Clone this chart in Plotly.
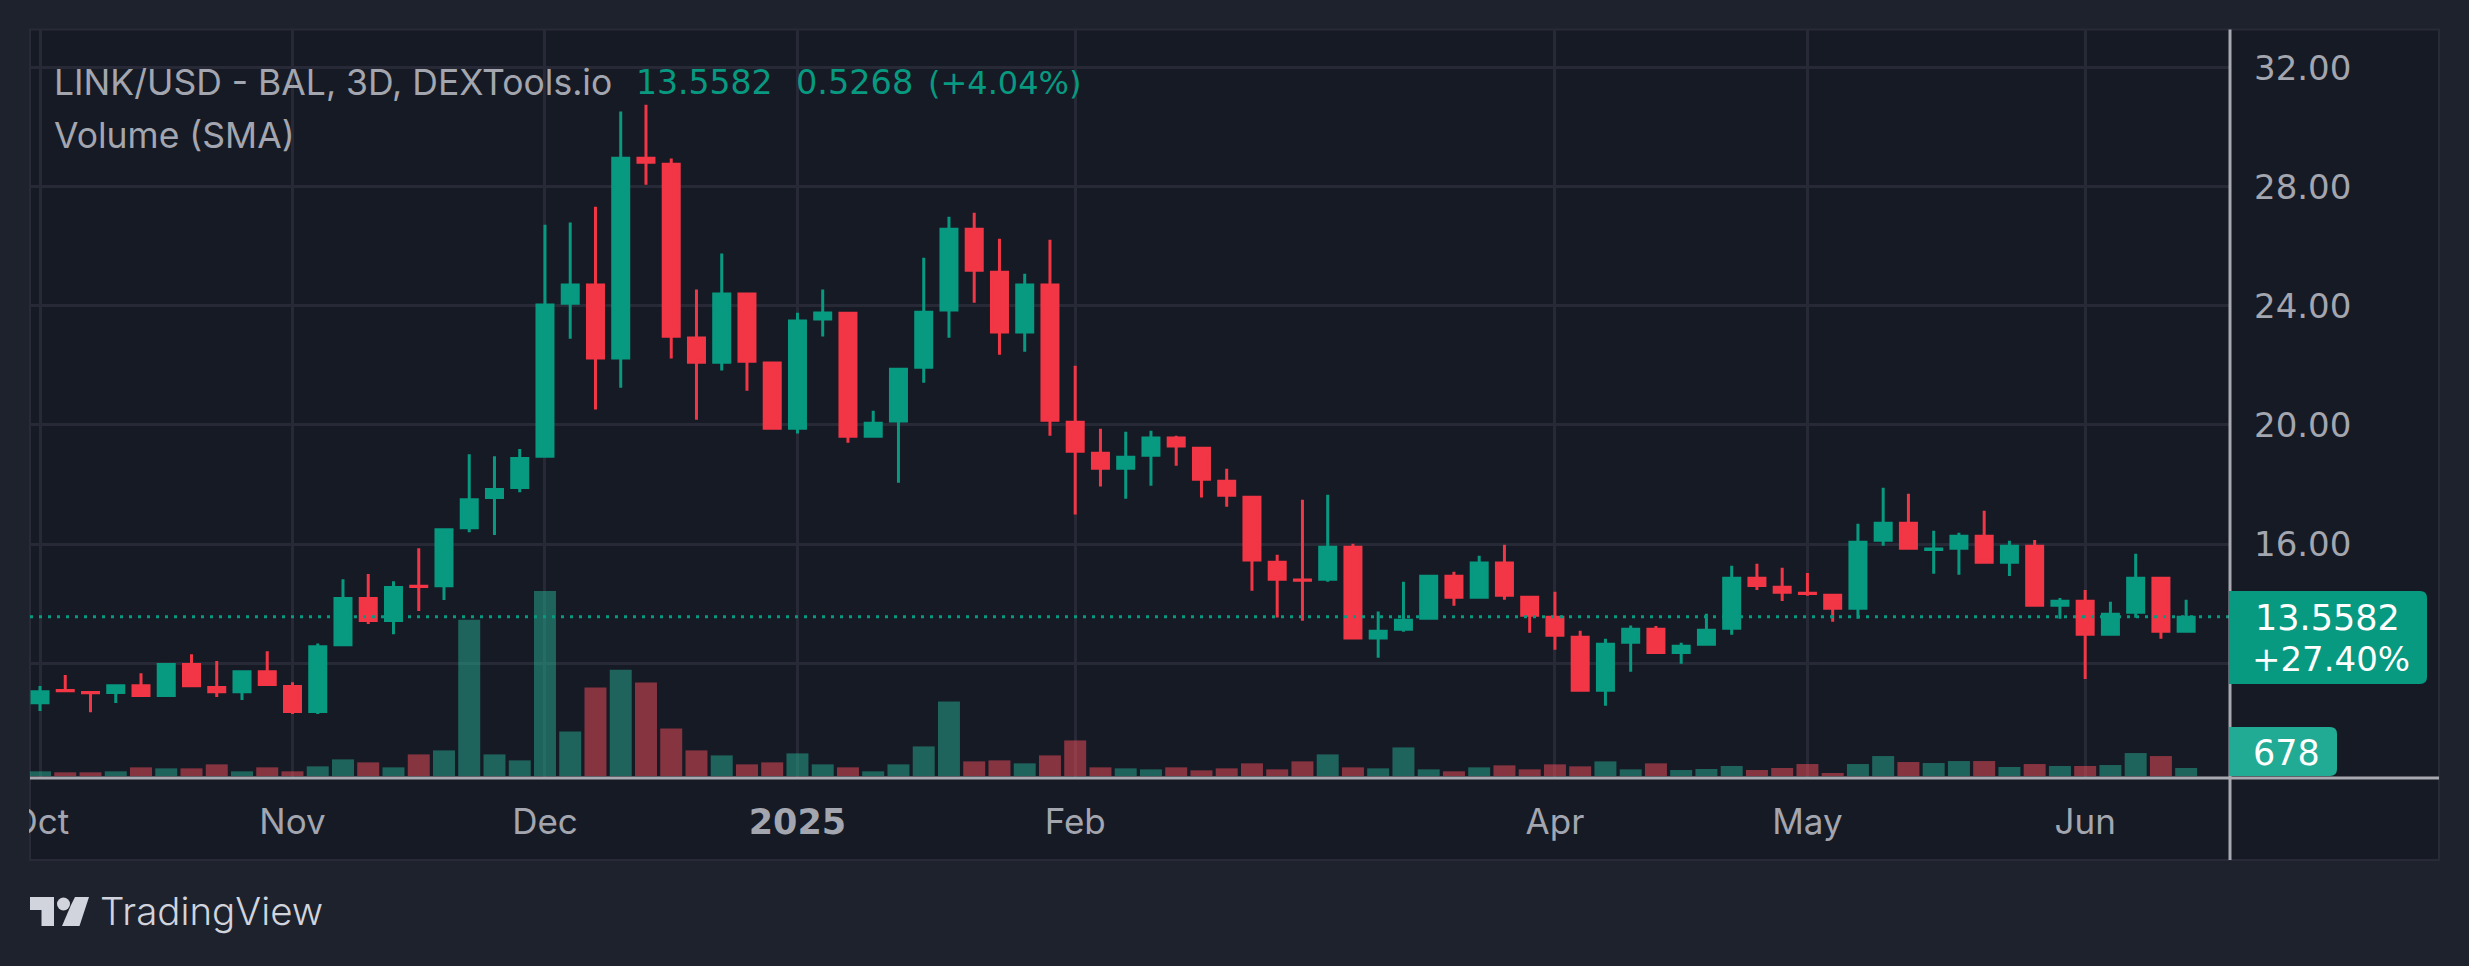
import pandas as pd
import plotly.graph_objects as go

# first bar of the 3D series
dates = pd.date_range("2024-10-03", periods=86, freq="3D")

opens = [10.67, 11.08, 11.01, 11.01, 11.24, 10.91, 11.95, 11.18, 11.04, 11.71,
         11.21, 10.37, 12.62, 14.17, 13.43, 14.58, 14.60, 16.55, 17.56, 17.90,
         18.95, 24.09, 24.70, 22.25, 28.96, 28.76, 22.92, 22.11, 24.40, 22.08,
         19.89, 23.56, 23.75, 19.62, 20.13, 21.94, 23.86, 26.58, 25.13, 23.12,
         24.70, 20.09, 19.05, 18.55, 18.98, 19.56, 19.22, 18.11, 17.57, 15.39,
         14.79, 14.82, 15.89, 12.84, 13.14, 13.51, 14.92, 14.21, 15.36, 14.21,
         13.54, 12.87, 11.09, 12.70, 13.14, 12.36, 12.63, 13.17, 14.85, 14.55,
         14.35, 14.28, 13.84, 16.13, 16.70, 15.82, 15.86, 16.26, 15.39, 15.93,
         13.94, 14.08, 12.97, 13.71, 14.85, 13.07]
highs = [11.23, 11.60, 11.01, 11.24, 11.66, 11.95, 12.30, 12.07, 11.71, 12.40,
         11.36, 12.66, 14.82, 14.99, 14.75, 15.86, 16.48, 19.02, 18.95, 19.19,
         26.73, 26.80, 27.33, 30.53, 30.76, 28.95, 24.55, 25.76, 24.40, 22.08,
         23.77, 24.55, 23.75, 20.48, 21.87, 25.62, 27.00, 27.13, 26.26, 25.08,
         26.22, 21.99, 19.87, 19.77, 19.81, 19.64, 19.22, 18.53, 17.57, 15.64,
         17.49, 17.66, 16.01, 13.73, 14.73, 14.92, 15.07, 15.61, 15.98, 14.21,
         14.40, 13.09, 12.82, 13.26, 13.25, 12.68, 13.66, 15.27, 15.34, 15.20,
         15.03, 14.28, 16.68, 17.89, 17.69, 16.45, 16.38, 17.12, 16.11, 16.14,
         14.19, 14.46, 14.06, 15.67, 14.85, 14.13]
lows = [10.39, 11.07, 10.35, 10.66, 10.91, 10.91, 11.24, 10.86, 10.76, 11.28,
        10.29, 10.29, 12.62, 13.31, 12.97, 13.75, 14.12, 16.40, 16.30, 17.74,
        18.95, 22.90, 20.52, 21.25, 28.07, 22.23, 20.18, 21.83, 21.15, 19.89,
        19.71, 22.97, 19.40, 19.62, 18.06, 21.42, 22.93, 24.11, 22.36, 22.46,
        19.64, 16.99, 17.93, 17.52, 17.96, 18.63, 17.56, 17.25, 14.43, 13.53,
        13.42, 14.73, 12.84, 12.18, 13.05, 13.51, 13.93, 14.21, 14.13, 13.02,
        12.45, 11.09, 10.57, 11.71, 12.36, 11.98, 12.63, 12.95, 14.46, 14.09,
        14.26, 13.39, 13.49, 15.94, 15.86, 15.00, 14.97, 15.39, 14.93, 13.94,
        13.49, 11.47, 12.97, 13.52, 12.82, 13.07]
closes = [11.04, 11.07, 11.00, 11.24, 10.91, 11.95, 11.24, 11.04, 11.71, 11.28,
          10.37, 12.55, 14.17, 13.43, 14.54, 14.57, 16.48, 17.49, 17.83, 18.87,
          24.03, 24.70, 22.25, 28.96, 28.83, 22.98, 22.11, 24.40, 22.14, 19.89,
          23.49, 23.76, 19.62, 20.06, 21.87, 23.79, 26.58, 25.20, 23.12, 24.70,
          20.16, 19.12, 18.55, 18.92, 19.56, 19.29, 18.18, 17.64, 15.46, 14.82,
          14.78, 15.89, 12.84, 13.07, 13.44, 14.92, 14.21, 15.36, 14.28, 13.61,
          12.94, 11.09, 12.63, 13.14, 12.36, 12.57, 13.10, 14.85, 14.61, 14.38,
          14.34, 13.84, 16.06, 16.70, 15.86, 15.83, 16.26, 15.39, 15.93, 13.94,
          14.08, 12.97, 13.64, 14.85, 13.07, 13.54]
volumes = [396, 311, 311, 396, 735, 650, 650, 989, 396, 735,
           396, 819, 1413, 1158, 735, 1836, 2175, 13278, 1836, 1328,
           15735, 3786, 7515, 9040, 7938, 4040, 2175, 1752, 989, 1158,
           1921, 989, 735, 396, 989, 2514, 6328, 1243, 1328, 1074,
           1752, 3023, 735, 650, 565, 735, 480, 650, 1074, 565,
           1243, 1836, 735, 650, 2430, 565, 396, 735, 904, 565,
           989, 819, 1243, 565, 1074, 509, 593, 848, 509, 678,
           1017, 254, 1017, 1695, 1187, 1102, 1271, 1271, 763, 1017,
           848, 848, 932, 1949, 1695, 678]

# the 12.00 label sits behind the price badge in the original
price_ticks = [12, 16, 20, 24, 28, 32]
price_labels = ["", "16.00", "20.00", "24.00", "28.00", "32.00"]
time_ticks = ["2024-10-03", "2024-11-02", "2024-12-02", "2025-01-01",
              "2025-02-03", "2025-04-01", "2025-05-01", "2025-06-03"]
time_labels = ["Oct", "Nov", "Dec", "<b style='font-family:DejaVu Sans;font-size:35px'>2025</b>",
               "Feb", "Apr", "May", "Jun"]

last_price = 13.5582
last_volume = 678

FONT = "Inter"
NUM_FONT = "DejaVu Sans"
UP = "#089981"
DOWN = "#F23645"
PANEL = "#161A25"
PAGE = "#1E222D"
GRID = "#272A36"
AXIS = "#A9AAB1"
TEXT = "#A3A6AF"

# plot area in page pixels
LEFT, RIGHT, TOP, BOTTOM = 30, 2230, 30, 778


def px(x):
    return (x - LEFT) / (RIGHT - LEFT)


def py(y):
    return (BOTTOM - y) / (BOTTOM - TOP)


def poly(points):
    return "M " + " L ".join("%.5f,%.5f" % (px(x), py(y)) for x, y in points) + " Z"


def badge(x0, y0, x1, y1, r=7):
    # square on the axis side, rounded on the right
    return ("M %.5f,%.5f L %.5f,%.5f Q %.5f,%.5f %.5f,%.5f L %.5f,%.5f Q %.5f,%.5f %.5f,%.5f L %.5f,%.5f Z"
            % (px(x0), py(y0), px(x1 - r), py(y0), px(x1), py(y0), px(x1), py(y0 + r),
               px(x1), py(y1 - r), px(x1), py(y1), px(x1 - r), py(y1), px(x0), py(y1)))


def paper_shape(**kw):
    return dict(xref="paper", yref="paper", **kw)


def label(x, y, text, color=TEXT, size=35.5, anchor="left", family=FONT, weight=400):
    return dict(xref="paper", yref="paper", x=px(x), y=py(y), text=text, showarrow=False,
                xanchor=anchor, yanchor="middle", borderpad=0,
                font=dict(family=family, size=size, color=color, weight=weight))


fig = go.Figure()
fig.add_trace(go.Bar(x=dates, y=volumes, yaxis="y2", showlegend=False, marker_line_width=0,
                     marker_color=["rgba(38,163,141,0.55)" if c >= o else "rgba(229,74,90,0.55)"
                                   for o, c in zip(opens, closes)]))
fig.add_trace(go.Candlestick(x=dates, open=opens, high=highs, low=lows, close=closes, showlegend=False,
                             increasing=dict(line=dict(color=UP, width=3), fillcolor=UP),
                             decreasing=dict(line=dict(color=DOWN, width=3), fillcolor=DOWN)))

shapes = [
    # outer panel, axis strips included
    paper_shape(type="rect", x0=px(30), x1=px(2439), y0=py(29.5), y1=py(860), layer="below",
                fillcolor=PANEL, line=dict(color="#282B37", width=2)),
    # last price line
    dict(type="line", xref="paper", yref="y", x0=0, x1=1, y0=last_price, y1=last_price, layer="above",
         line=dict(color=UP, width=3, dash="3px,6px")),
    # hides the part of the first label that runs past the panel
    paper_shape(type="rect", x0=px(0), x1=px(29), y0=py(790), y1=py(850), layer="above",
                fillcolor=PAGE, line=dict(width=0)),
    paper_shape(type="line", x0=px(2230), x1=px(2230), y0=py(29.5), y1=py(860), layer="above",
                line=dict(color=AXIS, width=3)),
    paper_shape(type="line", x0=px(30), x1=px(2439), y0=py(778), y1=py(778), layer="above",
                line=dict(color=AXIS, width=3)),
    paper_shape(type="path", path=badge(2229, 591, 2427, 684), layer="above",
                fillcolor=UP, line=dict(width=0)),
    paper_shape(type="path", path=badge(2229, 727, 2337, 776), layer="above",
                fillcolor="#22AB94", line=dict(width=0)),
    # TradingView mark
    paper_shape(type="path", path=poly([(30, 897), (54, 897), (54, 926), (41.5, 926), (41.5, 910), (30, 910)]),
                layer="above", fillcolor="#D1D4DC", line=dict(width=0)),
    paper_shape(type="circle", x0=px(57), x1=px(70), y0=py(897.5), y1=py(910.5), layer="above",
                fillcolor="#D1D4DC", line=dict(width=0)),
    paper_shape(type="path", path=poly([(75, 897), (89, 897), (79.5, 926), (62, 926), (71, 905)]),
                layer="above", fillcolor="#D1D4DC", line=dict(width=0)),
]

annotations = [
    label(52.5, 83, "LINK/USD - BAL, 3D, DEXTools.io"),
    label(635, 83, "13.5582", color=UP, size=33, family=NUM_FONT),
    label(794.5, 83, "0.5268", color=UP, size=33.5, family=NUM_FONT),
    label(927, 83, "(+4.04%)", color=UP, size=32, family=NUM_FONT),
    label(52.5, 135, "Volume (SMA)"),
    label(2327, 617.5, "13.5582", color="#FFFFFF", size=35, anchor="center", family=NUM_FONT),
    label(2331, 659, "+27.40%", color="#FFFFFF", size=34, anchor="center", family=NUM_FONT),
    label(2286, 752.5, str(last_volume), color="#FFFFFF", size=35, anchor="center", family=NUM_FONT),
    label(98.5, 911, "TradingView", color="#D1D4DC", size=38.5, weight=300),
]

fig.update_layout(
    width=2469, height=966,
    margin=dict(l=LEFT, r=2469 - RIGHT, t=TOP, b=966 - BOTTOM),
    paper_bgcolor=PAGE, plot_bgcolor=PANEL,
    boxgap=0.366, boxgroupgap=0, bargap=0.13,
    font=dict(family=FONT, size=35, color=TEXT),
    shapes=shapes, annotations=annotations,
    xaxis=dict(type="date", range=["2024-10-01 19:29", "2025-06-20 05:00"], rangeslider=dict(visible=False),
               tickmode="array", tickvals=time_ticks, ticktext=time_labels, tickangle=0,
               showgrid=True, gridcolor=GRID, gridwidth=3, zeroline=False, showline=False,
               ticks="", ticklabelstandoff=20, tickfont=dict(family=FONT, size=35, color=TEXT)),
    yaxis=dict(side="right", range=[8.14, 33.27], tickmode="array", tickvals=price_ticks, ticktext=price_labels,
               showgrid=True, gridcolor=GRID, gridwidth=3, zeroline=False, showline=False,
               ticks="", ticklabelstandoff=23, tickfont=dict(family=NUM_FONT, size=34, color=TEXT)),
    yaxis2=dict(overlaying="y", side="left", range=[-170, 63410], visible=False, showgrid=False, zeroline=False),
)

fig.write_html("out.html", config=dict(displayModeBar=False),
               post_script="document.body.style.margin='0';document.body.style.background='#1E222D';")
